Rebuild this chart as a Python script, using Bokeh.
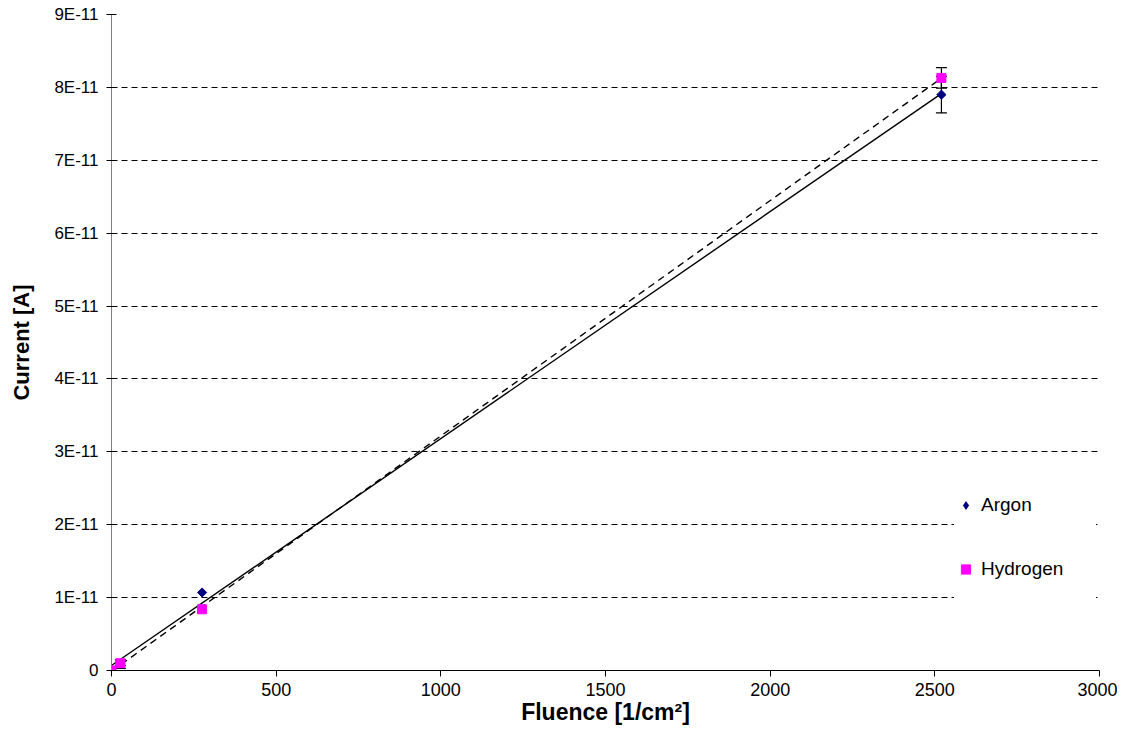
import numpy as np
from bokeh.plotting import figure
from bokeh.models import (ColumnDataSource, FixedTicker, CustomJSTickFormatter, Whisker,
                          TeeHead, Legend, LegendItem, Range1d)
from bokeh.embed import file_html
from bokeh.resources import INLINE

# ---- data ----
argon_x = [0, 27, 275, 2520]
argon_y = [0.0, 0.09e-11, 1.07e-11, 7.90e-11]
argon_err = [0.0, 0.06e-11, 0.0, 0.25e-11]

hydrogen_x = [0, 27, 275, 2520]
hydrogen_y = [0.0, 0.10e-11, 0.84e-11, 8.13e-11]
hydrogen_err = [0.0, 0.03e-11, 0.0, 0.14e-11]

x_ticks = [0, 500, 1000, 1500, 2000, 2500, 3000]
y_ticks = [i * 1e-11 for i in range(10)]

FONT = "Liberation Sans"
ARGON_COLOR = "#000080"
HYDROGEN_COLOR = "#FF00FF"

p = figure(width=1117, height=743, output_backend="svg", toolbar_location=None,
           x_range=Range1d(0, 3000), y_range=Range1d(0, 9e-11),
           min_border_left=111, min_border_right=18, min_border_top=14, min_border_bottom=73)
p.outline_line_color = None
p.background_fill_color = "white"
p.border_fill_color = "white"

# axes
p.xaxis.ticker = FixedTicker(ticks=x_ticks)
p.yaxis.ticker = FixedTicker(ticks=y_ticks)
p.yaxis.formatter = CustomJSTickFormatter(code="""
    const n = Math.round(tick * 1e11);
    return n == 0 ? "0" : n + "E-11";
""")
for ax in (p.xaxis, p.yaxis):
    ax.major_label_text_font = FONT
    ax.major_label_text_color = "black"
    ax.axis_label_text_font = FONT
    ax.axis_label_text_font_style = "bold"
    ax.axis_label_text_color = "black"
    ax.minor_tick_line_color = None
    ax.major_tick_line_color = "black"
p.xaxis.major_label_text_font_size = "18px"
p.yaxis.major_label_text_font_size = "17px"
p.xaxis.axis_label_text_font_size = "23px"
p.yaxis.axis_label_text_font_size = "22px"
p.xaxis.axis_line_color = "black"
p.yaxis.axis_line_color = "#808080"
p.xaxis.major_tick_in = 0
p.xaxis.major_tick_out = 6
p.yaxis.major_tick_in = 5
p.yaxis.major_tick_out = 5
p.xaxis.major_label_standoff = 6
p.yaxis.major_label_standoff = 8
p.xaxis.axis_label = "Fluence [1/cm²]"
p.yaxis.axis_label = "Current [A]"
p.xaxis.axis_label_standoff = 0
p.yaxis.axis_label_standoff = 17

# grid
p.xgrid.grid_line_color = None
p.ygrid.ticker = FixedTicker(ticks=y_ticks[1:])
p.ygrid.grid_line_color = "black"
p.ygrid.grid_line_dash = "6 4"
p.ygrid.grid_line_width = 1

# trendlines (linear least-squares fit)
ka, ba = np.polyfit(argon_x, argon_y, 1)
kh, bh = np.polyfit(hydrogen_x, hydrogen_y, 1)
xa = [0, max(argon_x)]
xh = [0, max(hydrogen_x)]
p.line(xa, [ka * v + ba for v in xa], line_color="black", line_width=1.4)
p.line(xh, [kh * v + bh for v in xh], line_color="black", line_width=1.4, line_dash="7 5")


def err_source(xs, ys, es):
    keep = [i for i, e in enumerate(es) if e > 0]
    return ColumnDataSource(dict(x=[xs[i] for i in keep],
                                 lo=[ys[i] - es[i] for i in keep],
                                 hi=[ys[i] + es[i] for i in keep]))


for src in (err_source(argon_x, argon_y, argon_err),
            err_source(hydrogen_x, hydrogen_y, hydrogen_err)):
    w = Whisker(source=src, base="x", lower="lo", upper="hi", line_color="black", line_width=1.2,
                upper_head=TeeHead(size=11, line_color="black", line_width=1.2),
                lower_head=TeeHead(size=11, line_color="black", line_width=1.2))
    p.add_layout(w)

ra = p.scatter(argon_x, argon_y, marker="square", angle=np.pi / 4, size=6.5,
               fill_color=ARGON_COLOR, line_color=ARGON_COLOR)
rh = p.scatter(hydrogen_x, hydrogen_y, marker="square", size=9,
               fill_color=HYDROGEN_COLOR, line_color=HYDROGEN_COLOR)
# legend swatch for Argon: legend glyphs are drawn unrotated, so a zero-size
# diamond renderer on the same data provides the key (invisible in the plot)
ra_key = p.scatter(argon_x, argon_y, marker="diamond", size=0,
                   fill_color=ARGON_COLOR, line_color=None)

legend = Legend(items=[LegendItem(label="Argon", renderers=[ra_key]),
                       LegendItem(label="Hydrogen", renderers=[rh])],
                location=(843, 69))
legend.border_line_color = None
legend.background_fill_color = "white"
legend.background_fill_alpha = 1.0
legend.label_text_font = FONT
legend.label_text_font_size = "19px"
legend.label_text_color = "black"
legend.padding = 0
legend.margin = 0
legend.glyph_width = 23
legend.glyph_height = 64
legend.label_height = 64
legend.label_width = 115
legend.label_standoff = 4
legend.spacing = 0
p.add_layout(legend)

open("out.html", "w").write(file_html(p, INLINE))
